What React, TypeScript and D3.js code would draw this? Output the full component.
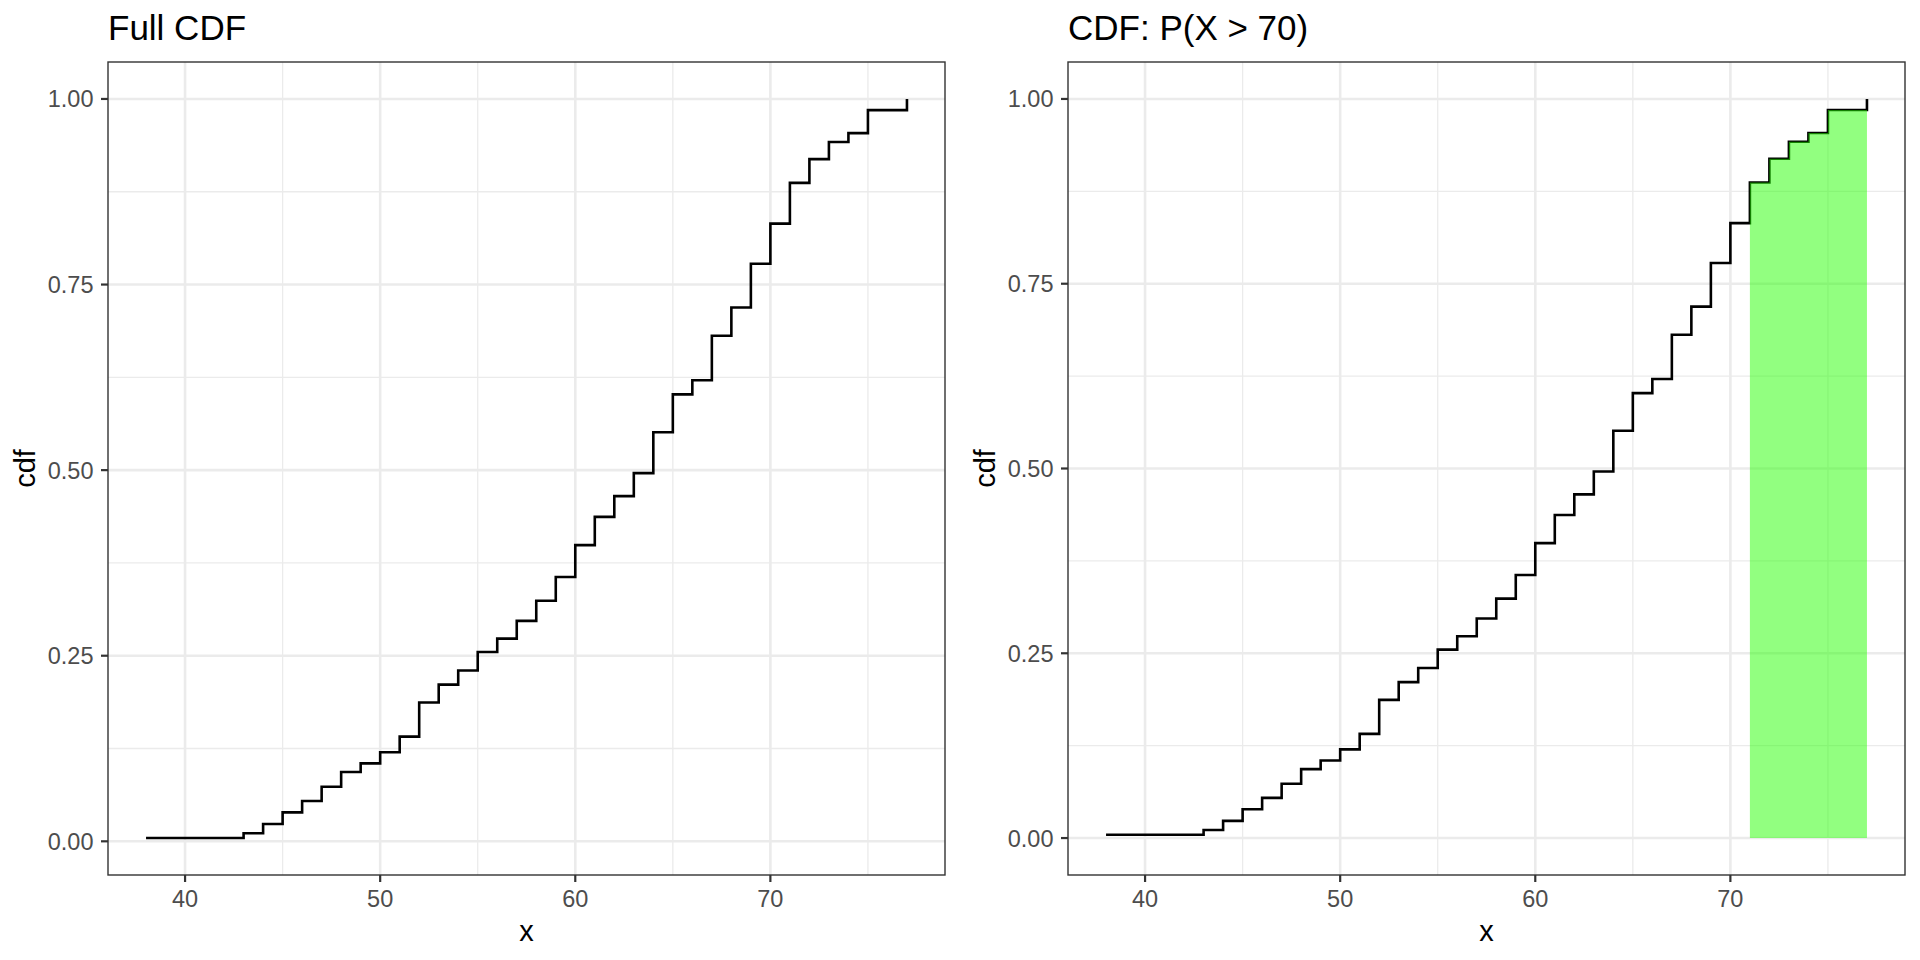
import React from "react";
import * as d3 from "d3";

// ---- data ----
const xValues = [38, 43, 44, 45, 46, 47, 48, 49, 50, 51, 52, 53, 54, 55, 56, 57, 58, 59, 60, 61, 62, 63, 64, 65, 66, 67, 68, 69, 70, 71, 72, 73, 74, 75, 77];
const cdfValues = [0.0044, 0.0108, 0.0233, 0.039, 0.0543, 0.0735, 0.0933, 0.105, 0.12, 0.141, 0.187, 0.211, 0.23, 0.255, 0.273, 0.297, 0.324, 0.356, 0.399, 0.437, 0.465, 0.496, 0.551, 0.602, 0.621, 0.681, 0.719, 0.778, 0.832, 0.887, 0.919, 0.942, 0.954, 0.985, 1.0];
const xTicks = [40, 50, 60, 70];
const xMinorTicks = [35, 45, 55, 65, 75];
const yTicks = [0, 0.25, 0.5, 0.75, 1];
const yMinorTicks = [0.125, 0.375, 0.625, 0.875];
const panelTitles = ["Full CDF", "CDF: P(X > 70)"];
const threshold = 70;

const FONT = "'Liberation Sans', Arial, Helvetica, sans-serif";

type Pt = { x: number; y: number };
const points: Pt[] = xValues.map((x, i) => ({ x, y: cdfValues[i] }));

function expand(lo: number, hi: number): [number, number] {
  const d = (hi - lo) * 0.05;
  return [lo - d, hi + d];
}

function Panel({ offsetX, title, shade }: { offsetX: number; title: string; shade: boolean }) {
  const left = 108, right = 945, top = 62, bottom = 875;
  const xExt = d3.extent(xValues) as [number, number];
  const yLo = shade ? 0 : (d3.min(cdfValues) as number);
  const yHi = d3.max(cdfValues) as number;
  const x = d3.scaleLinear().domain(expand(xExt[0], xExt[1])).range([left, right]);
  const y = d3.scaleLinear().domain(expand(yLo, yHi)).range([bottom, top]);

  const line = d3.line<Pt>().x(d => x(d.x)).y(d => y(d.y)).curve(d3.curveStepAfter);
  const shaded = points.filter(p => p.x > threshold);
  const area = d3.area<Pt>().x(d => x(d.x)).y0(y(0)).y1(d => y(d.y)).curve(d3.curveStepAfter);

  return (
    <g transform={`translate(${offsetX},0)`}>
      <text x={left} y={40} fontFamily={FONT} fontSize={35} fill="#000">{title}</text>
      <rect x={left} y={top} width={right - left} height={bottom - top} fill="#fff" />
      {yMinorTicks.map(t => (
        <line key={"ym" + t} x1={left} x2={right} y1={y(t)} y2={y(t)} stroke="#EBEBEB" strokeWidth={1.3} />
      ))}
      {xMinorTicks.filter(t => x(t) > left && x(t) < right).map(t => (
        <line key={"xm" + t} x1={x(t)} x2={x(t)} y1={top} y2={bottom} stroke="#EBEBEB" strokeWidth={1.3} />
      ))}
      {yTicks.map(t => (
        <line key={"yg" + t} x1={left} x2={right} y1={y(t)} y2={y(t)} stroke="#EBEBEB" strokeWidth={2.6} />
      ))}
      {xTicks.map(t => (
        <line key={"xg" + t} x1={x(t)} x2={x(t)} y1={top} y2={bottom} stroke="#EBEBEB" strokeWidth={2.6} />
      ))}
      <path d={line(points) || ""} fill="none" stroke="#000" strokeWidth={2.6} />
      {shade && (
        <path d={area(shaded) || ""} fill="rgb(37,255,1)" fillOpacity={0.5} />
      )}
      <rect x={left} y={top} width={right - left} height={bottom - top} fill="none" stroke="#333333" strokeWidth={1.4} />
      {yTicks.map(t => (
        <g key={"yt" + t}>
          <line x1={left - 7} x2={left} y1={y(t)} y2={y(t)} stroke="#333333" strokeWidth={2.2} />
          <text x={left - 14.5} y={y(t)} dy="0.36em" textAnchor="end" fontFamily={FONT} fontSize={23.5} fill="#4D4D4D">
            {d3.format(".2f")(t)}
          </text>
        </g>
      ))}
      {xTicks.map(t => (
        <g key={"xt" + t}>
          <line x1={x(t)} x2={x(t)} y1={bottom} y2={bottom + 7} stroke="#333333" strokeWidth={2.2} />
          <text x={x(t)} y={907} textAnchor="middle" fontFamily={FONT} fontSize={23.5} fill="#4D4D4D">{t}</text>
        </g>
      ))}
      <text x={(left + right) / 2} y={941} textAnchor="middle" fontFamily={FONT} fontSize={29} fill="#000">x</text>
      <text transform={`translate(35,${(top + bottom) / 2}) rotate(-90)`} textAnchor="middle" fontFamily={FONT} fontSize={29} fill="#000">cdf</text>
    </g>
  );
}

export default function App() {
  return (
    <svg width={1920} height={960} style={{ position: "absolute", left: 0, top: 0, background: "#fff" }}>
      <rect width={1920} height={960} fill="#fff" />
      <Panel offsetX={0} title={panelTitles[0]} shade={false} />
      <Panel offsetX={960} title={panelTitles[1]} shade={true} />
    </svg>
  );
}
